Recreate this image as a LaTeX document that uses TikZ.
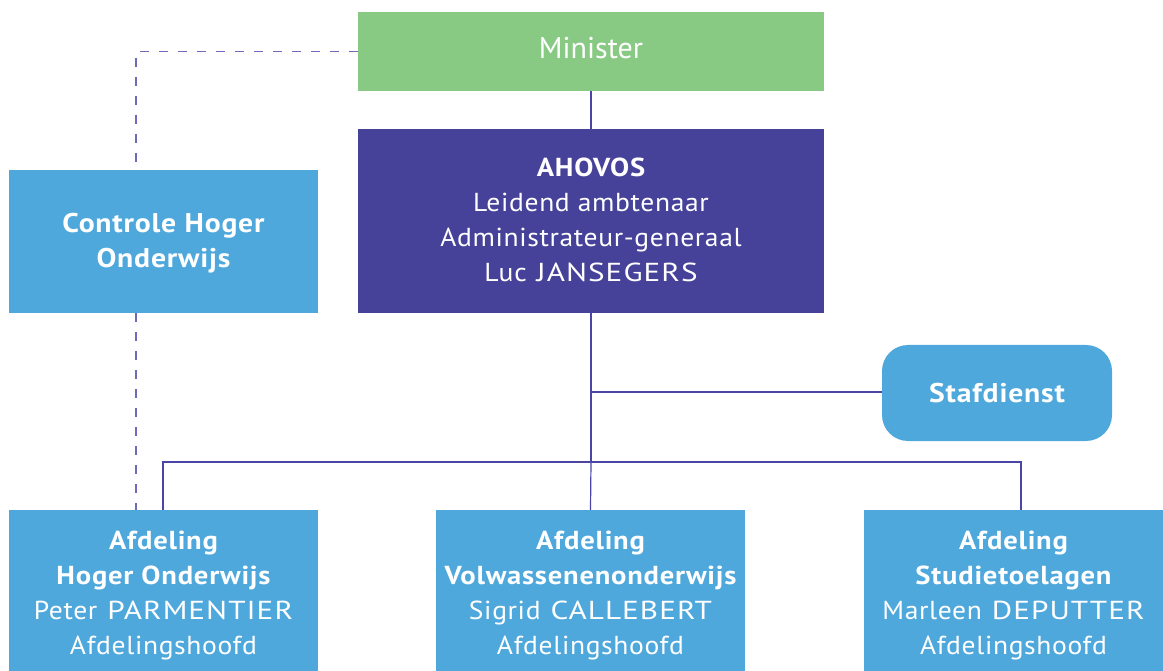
\documentclass[tikz,border=0pt]{standalone}
\usepackage{fontspec}
\setmainfont{PT Sans}
\newfontfamily\regf{PT Sans}[FakeStretch=1.06,LetterSpace=2.5]
\newfontfamily\capf{PT Sans}[FakeStretch=1.2,LetterSpace=4]
\newfontfamily\bldf{PT Sans}[FakeStretch=1.1,LetterSpace=3]
\newcommand{\CAPS}[1]{\hspace{2pt}{\capf #1}}
\newcommand{\BLD}[1]{{\bldf\bfseries #1}}
\definecolor{mgreen}{HTML}{88C983}
\definecolor{mpurple}{HTML}{46429A}
\definecolor{mblue}{HTML}{4FA8DC}
\definecolor{mline}{HTML}{4B45A5}
\begin{document}
\begin{tikzpicture}[x=1pt,y=-1pt,
  box/.style={fill=#1, draw=none, inner sep=0pt},
  txt/.style={text=white, align=center, inner sep=0pt,
    font=\fontsize{26}{35}\selectfont\regf},
  conn/.style={draw=mline, line width=1.2pt},
  dconn/.style={draw=mline!80, line width=1.2pt, dash pattern=on 9pt off 10pt}]
\useasboundingbox (0,0) rectangle (1163,671);
\node[box=mgreen, minimum width=466pt, minimum height=79pt] (min) at (591,51.5) {};
\node[box=mpurple, minimum width=466pt, minimum height=184pt] (aho) at (591,221) {};
\node[box=mblue, minimum width=309pt, minimum height=143pt] (ctl) at (163.5,241.5) {};
\node[box=mblue, rounded corners=26pt, minimum width=230pt, minimum height=96pt] (staf) at (997,393) {};
\node[box=mblue, minimum width=309pt, minimum height=161pt] (a1) at (163.5,590.5) {};
\node[box=mblue, minimum width=309pt, minimum height=161pt] (a2) at (590.5,590.5) {};
\node[box=mblue, minimum width=299pt, minimum height=161pt] (a3) at (1013.5,590.5) {};
\node[txt, font=\fontsize{30}{35}\selectfont\rmfamily] (tmin) at ([yshift=3pt]min.center) {Minister};
\node[txt] (taho) at ([yshift=1pt]aho.center) {\BLD{AHOVOS}\\Leidend ambtenaar\\Administrateur-generaal\\Luc \CAPS{JANSEGERS}};
\node[txt, font=\fontsize{27}{35}\selectfont\regf] (tctl) at ([yshift=-2pt]ctl.center) {\BLD{Controle Hoger}\\\BLD{Onderwijs}};
\node[txt, font=\fontsize{27}{35}\selectfont\regf] (tstaf) at (staf.center) {\BLD{Stafdienst}};
\node[txt] (ta1) at ([yshift=-5pt]a1.center) {\BLD{Afdeling}\\\BLD{Hoger Onderwijs}\\Peter \CAPS{PARMENTIER}\\Afdelingshoofd};
\node[txt] (ta2) at ([yshift=-5pt]a2.center) {\BLD{Afdeling}\\\BLD{Volwassenenonderwijs}\\Sigrid \CAPS{CALLEBERT}\\Afdelingshoofd};
\node[txt] (ta3) at ([yshift=-5pt]a3.center) {\BLD{Afdeling}\\\BLD{Studietoelagen}\\Marleen \CAPS{DEPUTTER}\\Afdelingshoofd};
\coordinate (bus) at (591,462);
\coordinate (sj) at (591,392);
\draw[conn] (min.south) -- (aho.north);
\draw[conn] (aho.south) -- (bus);
\draw[conn] (sj) -- (staf.west |- sj);
\draw[conn] (a1.north -| 163,0) |- (bus) -| (a3.north -| 1021,0);
\draw[conn] (bus) -- (a2.north);
\draw[dconn] (min.west) -| (ctl.north -| 136,0);
\draw[dconn] (ctl.south -| 136,0) -- (a1.north -| 136,0);
\end{tikzpicture}
\end{document}
